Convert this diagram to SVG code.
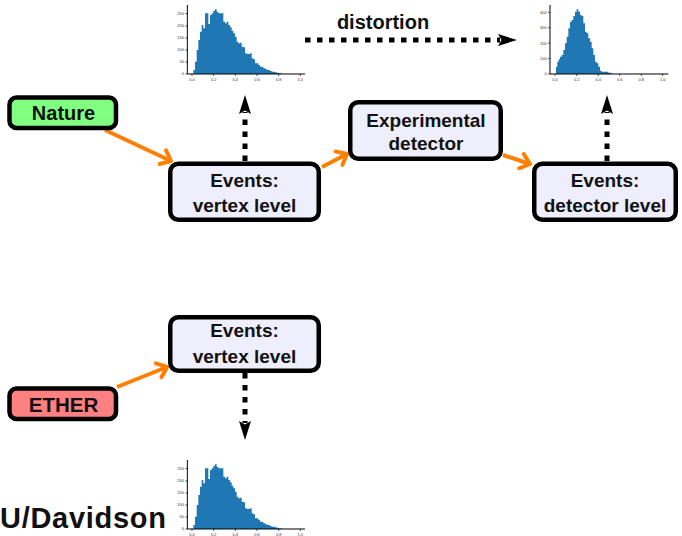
<svg xmlns="http://www.w3.org/2000/svg" width="682" height="536" viewBox="0 0 682 536">
<defs>
<style>
.box{stroke:#000;stroke-width:4.5}
.ev{fill:#EEEEFC}
.lbl{font-family:"Liberation Sans",Arial,sans-serif;font-weight:bold;font-size:19px;fill:#111;text-anchor:middle}
.tk{font-family:"Liberation Sans",Arial,sans-serif;font-size:12px;fill:#333}
.tx{text-anchor:middle}
.ty{text-anchor:end}
.ax{fill:none;stroke:#000;stroke-width:3}
.tm{fill:none;stroke:#000;stroke-width:2}
.bar{fill:#1F77B4}
.org{fill:none;stroke:#FF8000;stroke-width:4}
.dot{fill:none;stroke:#000;stroke-width:5;stroke-dasharray:5.5 6.5}
</style>
<marker id="chev" markerUnits="userSpaceOnUse" markerWidth="24" markerHeight="24" refX="0" refY="0" orient="auto" overflow="visible">
<path d="M-9,-7.5 L0,0 L-9,7.5" fill="none" stroke="#FF8000" stroke-width="4" stroke-linecap="round" stroke-linejoin="round"/>
</marker>
<marker id="stealth" markerUnits="userSpaceOnUse" markerWidth="30" markerHeight="30" refX="0" refY="0" orient="auto" overflow="visible">
<path d="M-2,-6 L17,0 L-2,6 L1.5,0 Z" fill="#000"/>
</marker>
<g id="histV">
<path class="bar" d="M70,222 V210 H75 V185 H80 V150 H85 V120 H90 V95 H95 V75 H100 V85 H105 V40 H110 V40 H115 V72 H120 V45 H125 V40 H130 V32 H135 V28 H140 V35 H145 V40 H155 V40 H160 V65 H165 V70 H170 V65 H175 V75 H180 V82 H185 V92 H190 V100 H195 V110 H200 V125 H205 V130 H210 V128 H215 V140 H220 V142 H225 V160 H230 V162 H240 V160 H245 V175 H250 V178 H255 V190 H265 V195 H270 V200 H280 V205 H285 V207 H290 V210 H300 V213 H305 V215 H315 V217 H320 V218 H325 V220 H335 V222 Z"/>
<path class="ax" d="M52,15 V222 H405"/>
<path class="tm" d="M46,222 H52 M46,186 H52 M46,150 H52 M46,114 H52 M46,78 H52 M46,41 H52 M66,222 V228 M131,222 V228 M196,222 V228 M261,222 V228 M326,222 V228 M391,222 V228"/>
<g class="tk ty">
<text x="42" y="226">0</text><text x="42" y="190">50</text><text x="42" y="154">100</text><text x="42" y="118">150</text><text x="42" y="82">200</text><text x="42" y="45">250</text>
</g>
<g class="tk tx">
<text x="66" y="244">0.0</text><text x="131" y="244">0.2</text><text x="196" y="244">0.4</text><text x="261" y="244">0.6</text><text x="326" y="244">0.8</text><text x="391" y="244">1.0</text>
</g>
</g>
</defs>
<rect width="682" height="536" fill="#fff"/>

<g id="hist-vertex-top" transform="translate(170,0) scale(0.33333)">
<use href="#histV"/>
</g>

<g id="hist-detector" transform="translate(500,0) scale(0.33333)">
<path class="bar" d="M168,222 V200 H172 V185 H176 V178 H180 V170 H185 V165 H190 V150 H195 V130 H200 V110 H205 V85 H210 V65 H215 V60 H220 V48 H225 V35 H230 V28 H235 V35 H240 V45 H245 V48 H250 V70 H255 V95 H260 V100 H265 V115 H270 V125 H275 V145 H280 V165 H285 V185 H290 V190 H295 V200 H300 V212 H305 V215 H325 V218 H335 V222 Z"/>
<path class="ax" d="M150,15 V222 H505"/>
<path class="tm" d="M144,222 H150 M144,175.75 H150 M144,129.5 H150 M144,83.25 H150 M144,37 H150 M165,222 V228 M230,222 V228 M295,222 V228 M359,222 V228 M424,222 V228 M488,222 V228"/>
<g class="tk ty">
<text x="140" y="226">0</text><text x="140" y="180">100</text><text x="140" y="134">200</text><text x="140" y="87">300</text><text x="140" y="41">400</text>
</g>
<g class="tk tx">
<text x="165" y="244">0.0</text><text x="230" y="244">0.2</text><text x="295" y="244">0.4</text><text x="359" y="244">0.6</text><text x="424" y="244">0.8</text><text x="488" y="244">1.0</text>
</g>
</g>

<g id="hist-vertex-bottom" transform="translate(170,455) scale(0.33333)">
<use href="#histV"/>
</g>

<g id="connectors">
<path class="org" d="M105,130 L171,161" marker-end="url(#chev)"/>
<path class="org" d="M322,167 L347,154" marker-end="url(#chev)"/>
<path class="org" d="M503,155 L530,164" marker-end="url(#chev)"/>
<path class="org" d="M117,387 L167,367" marker-end="url(#chev)"/>
<path class="dot" d="M245,161 V112" marker-end="url(#stealth)"/>
<path class="dot" d="M607,161 V112" marker-end="url(#stealth)"/>
<path class="dot" d="M305,40 H500" marker-end="url(#stealth)"/>
<path class="dot" d="M245,373 V423" marker-end="url(#stealth)"/>
<text class="lbl" x="383" y="29" style="font-size:20px">distortion</text>
</g>

<g id="nature">
<rect class="box" x="9.5" y="97.5" width="106.5" height="30.5" rx="7" fill="#80FF80"/>
<text class="lbl" x="63.5" y="120" style="font-size:20px">Nature</text>
</g>

<g id="events-vertex-top">
<rect class="box ev" x="170.25" y="163.75" width="148.5" height="56" rx="8"/>
<text class="lbl" x="244.5" y="187">Events:</text>
<text class="lbl" x="244.5" y="211.5">vertex level</text>
</g>

<g id="experimental-detector">
<rect class="box ev" x="350.25" y="102.25" width="150.5" height="56.5" rx="8"/>
<text class="lbl" x="426" y="126.5">Experimental</text>
<text class="lbl" x="426" y="150">detector</text>
</g>

<g id="events-detector">
<rect class="box ev" x="534.25" y="163.75" width="141.5" height="56" rx="8"/>
<text class="lbl" x="605" y="187">Events:</text>
<text class="lbl" x="605" y="211.5">detector level</text>
</g>

<g id="events-vertex-bottom">
<rect class="box ev" x="170.25" y="317.25" width="148.5" height="53.5" rx="8"/>
<text class="lbl" x="244.5" y="337">Events:</text>
<text class="lbl" x="244.5" y="363">vertex level</text>
</g>

<g id="ether">
<rect class="box" x="9.5" y="388.5" width="106.5" height="30.5" rx="7" fill="#FF8080"/>
<text class="lbl" x="63.5" y="411.5" style="font-size:20.5px">ETHER</text>
</g>

<text x="0" y="528" style="font-family:'Liberation Sans',Arial,sans-serif;font-weight:bold;font-size:29px;fill:#111" textLength="166" lengthAdjust="spacing">U/Davidson</text>
</svg>
